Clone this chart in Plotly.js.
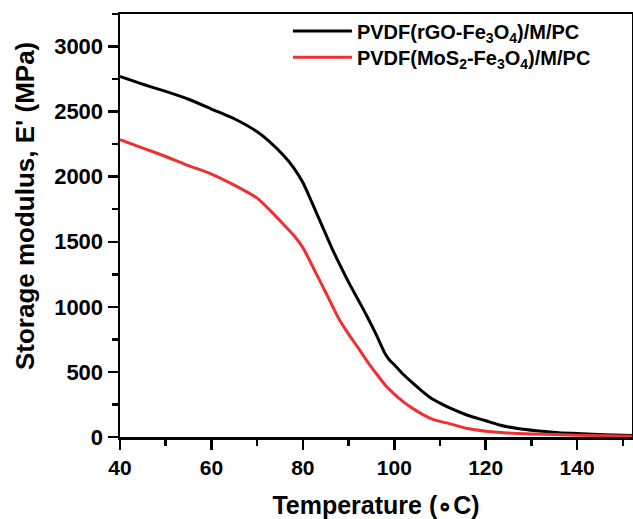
<!DOCTYPE html>
<html>
<head>
<meta charset="utf-8">
<script src="https://cdn.plot.ly/plotly-3.0.1.min.js"></script>
<style>html,body{margin:0;padding:0;background:#fff;}#chart{width:633px;height:519px;}</style>
</head>
<body>
<div id="chart"></div>
<script>
var tempRGO = [40, 45, 50, 55, 60, 65, 70, 73, 76, 78, 80, 82, 84, 86.5, 88, 90, 92, 94, 96, 98, 99, 100, 102, 104, 106, 108, 110, 112, 116, 120, 123, 127, 131, 136, 141, 146, 152];
var modRGO  = [2770, 2710, 2655, 2595, 2520, 2445, 2345, 2260, 2155, 2068, 1955, 1800, 1640, 1440, 1330, 1190, 1060, 930, 790, 640, 590, 555, 480, 415, 355, 300, 260, 225, 167, 125, 92, 65, 48, 33, 25, 18, 12];

var tempMoS2 = [40, 45, 50, 55, 60, 65, 70, 73, 76, 78, 80, 82, 84, 86, 88, 90, 92, 94, 96, 98, 100, 102, 104, 106, 108, 110, 112, 116, 120, 124, 130, 140, 152];
var modMoS2  = [2285, 2220, 2155, 2085, 2020, 1935, 1835, 1735, 1625, 1550, 1455, 1320, 1180, 1040, 900, 790, 690, 585, 490, 400, 330, 270, 220, 178, 142, 120, 103, 65, 45, 33, 24, 14, 5];

var seriesNames = ['PVDF(rGO-Fe<sub>3</sub>O<sub>4</sub>)/M/PC', 'PVDF(MoS<sub>2</sub>-Fe<sub>3</sub>O<sub>4</sub>)/M/PC'];
var xTickVals = [40, 60, 80, 100, 120, 140];
var yTickVals = [0, 500, 1000, 1500, 2000, 2500, 3000];
var xTitle = 'Temperature (\u2218C)';
var yTitle = "Storage modulus, E' (MPa)";

var fontFam = 'Liberation Sans, Arial, sans-serif';

var traces = [
  {x: tempRGO, y: modRGO, mode: 'lines', name: seriesNames[0], legend: 'legend',
   line: {color: '#000000', width: 3, shape: 'spline', smoothing: 0.7}},
  {x: tempMoS2, y: modMoS2, mode: 'lines', name: seriesNames[1], legend: 'legend2',
   line: {color: '#ee3030', width: 3, shape: 'spline', smoothing: 0.7}}
];

var legFont = {family: fontFam, size: 20, color: '#000', weight: 'bold'};

var layout = {
  width: 633, height: 519,
  margin: {l: 120, r: 1, t: 14, b: 82},
  paper_bgcolor: '#fff', plot_bgcolor: '#fff',
  showlegend: true,
  legend: {x: 0.328, y: 0.960, xanchor: 'left', yanchor: 'middle', bgcolor: 'rgba(0,0,0,0)', font: legFont, itemwidth: 59},
  legend2: {x: 0.328, y: 0.898, xanchor: 'left', yanchor: 'middle', bgcolor: 'rgba(0,0,0,0)', font: legFont, itemwidth: 59},
  xaxis: {
    showline: true, linecolor: '#000', linewidth: 2.5, mirror: true,
    showgrid: false, zeroline: false,
    ticks: 'outside', ticklen: 10, tickwidth: 2.5, tickcolor: '#000',
    tickfont: {family: fontFam, size: 21, color: '#000', weight: 'bold'},
    range: [40, 152], tickvals: xTickVals, ticktext: xTickVals.map(String),
    minor: {dtick: 10, tick0: 40, ticks: 'outside', ticklen: 6, tickwidth: 2.5, tickcolor: '#000'},
    title: {text: xTitle, font: {family: fontFam, size: 25, color: '#000', weight: 'bold'}, standoff: 19}
  },
  yaxis: {
    showline: true, linecolor: '#000', linewidth: 2.5, mirror: true,
    showgrid: false, zeroline: false,
    ticks: 'outside', ticklen: 10, tickwidth: 2.5, tickcolor: '#000',
    tickfont: {family: fontFam, size: 22, color: '#000', weight: 'bold'},
    range: [0, 3250], tickvals: yTickVals, ticktext: yTickVals.map(String),
    minor: {dtick: 250, tick0: 0, ticks: 'outside', ticklen: 6, tickwidth: 2.5, tickcolor: '#000'}
  },
  annotations: [
    {xref: 'paper', yref: 'paper', x: -0.1855, y: 0.546, xanchor: 'center', yanchor: 'middle',
     textangle: -90, showarrow: false, text: yTitle,
     font: {family: fontFam, size: 26, color: '#000', weight: 'bold'}}
  ]
};

Plotly.newPlot('chart', traces, layout, {displayModeBar: false, staticPlot: true});
</script>
</body>
</html>
